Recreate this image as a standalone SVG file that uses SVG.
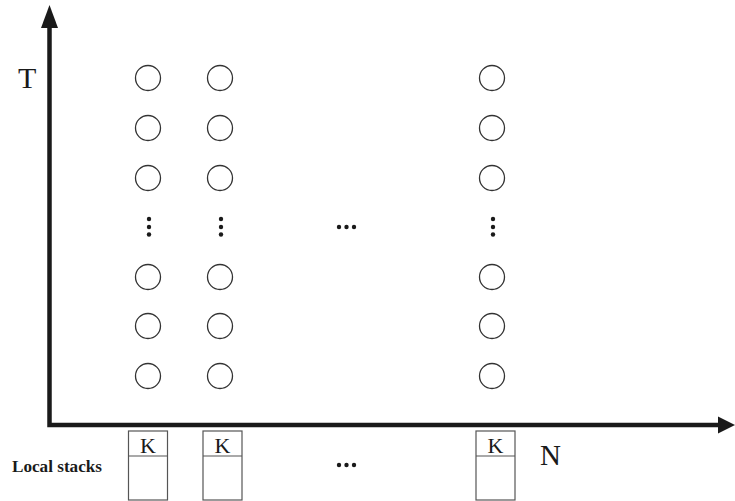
<svg xmlns="http://www.w3.org/2000/svg" width="735" height="501" viewBox="0 0 735 501">
<style>
.c{fill:none;stroke:#333;stroke-width:1.3}
.d{fill:#1a1a1a}
.box{fill:#fff;stroke:#555;stroke-width:1.2}
.t{font-family:"Liberation Serif","Times New Roman",serif;fill:#1a1a1a}
</style>
<rect width="735" height="501" fill="#fff"/>
<g id="connectors">
<polyline points="49.5,26 49.5,425 718,425" fill="none" stroke="#1a1a1a" stroke-width="4.5"/>
<polygon points="49.5,5 41,28 58,28" fill="#1a1a1a"/>
<polygon points="735,425 718,416.5 718,433.5" fill="#1a1a1a"/>
</g>
<g id="labels">
<text class="t" x="18" y="88" font-size="30">T</text>
<text class="t" x="540" y="465" font-size="29">N</text>
<text class="t" x="12" y="472" font-size="16.5" font-weight="bold" textLength="90" lengthAdjust="spacingAndGlyphs">Local stacks</text>
</g>
<g id="col1">
<circle class="c" cx="148" cy="78" r="12.5"/>
<circle class="c" cx="148" cy="128" r="12.5"/>
<circle class="c" cx="148" cy="178" r="12.5"/>
<circle class="d" cx="149" cy="219" r="2.2"/>
<circle class="d" cx="149" cy="227" r="2.2"/>
<circle class="d" cx="149" cy="234.5" r="2.2"/>
<circle class="c" cx="148" cy="277" r="12.5"/>
<circle class="c" cx="148" cy="326" r="12.5"/>
<circle class="c" cx="148" cy="376" r="12.5"/>
</g>
<g id="col2">
<circle class="c" cx="220" cy="78" r="12.5"/>
<circle class="c" cx="220" cy="128" r="12.5"/>
<circle class="c" cx="220" cy="178" r="12.5"/>
<circle class="d" cx="221" cy="219" r="2.2"/>
<circle class="d" cx="221" cy="227" r="2.2"/>
<circle class="d" cx="221" cy="234.5" r="2.2"/>
<circle class="c" cx="220" cy="277" r="12.5"/>
<circle class="c" cx="220" cy="326" r="12.5"/>
<circle class="c" cx="220" cy="376" r="12.5"/>
</g>
<g id="hdots">
<circle class="d" cx="339" cy="227" r="2.2"/>
<circle class="d" cx="346.5" cy="227" r="2.2"/>
<circle class="d" cx="354" cy="227" r="2.2"/>
</g>
<g id="col3">
<circle class="c" cx="492" cy="78" r="12.5"/>
<circle class="c" cx="492" cy="128" r="12.5"/>
<circle class="c" cx="492" cy="178" r="12.5"/>
<circle class="d" cx="493" cy="219" r="2.2"/>
<circle class="d" cx="493" cy="227" r="2.2"/>
<circle class="d" cx="493" cy="234.5" r="2.2"/>
<circle class="c" cx="492" cy="277" r="12.5"/>
<circle class="c" cx="492" cy="326" r="12.5"/>
<circle class="c" cx="492" cy="376" r="12.5"/>
</g>
<g id="stack1">
<rect class="box" x="128.5" y="431" width="39" height="69"/>
<line class="box" x1="128.5" y1="456" x2="167.5" y2="456"/>
<text class="t" x="148" y="453" font-size="22" text-anchor="middle">K</text>
</g>
<g id="stack2">
<rect class="box" x="203" y="431" width="39" height="69"/>
<line class="box" x1="203" y1="456" x2="242" y2="456"/>
<text class="t" x="222.5" y="453" font-size="22" text-anchor="middle">K</text>
</g>
<g id="stack-dots">
<circle class="d" cx="339" cy="465" r="2.2"/>
<circle class="d" cx="346.5" cy="465" r="2.2"/>
<circle class="d" cx="354" cy="465" r="2.2"/>
</g>
<g id="stack3">
<rect class="box" x="476" y="431" width="39" height="69"/>
<line class="box" x1="476" y1="456" x2="515" y2="456"/>
<text class="t" x="495.5" y="453" font-size="22" text-anchor="middle">K</text>
</g>
</svg>
